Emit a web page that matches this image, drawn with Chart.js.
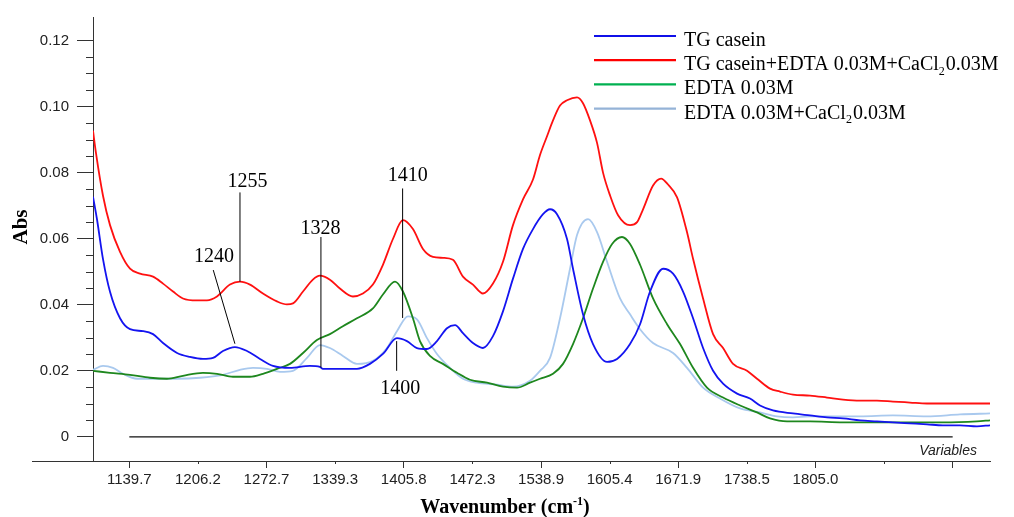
<!DOCTYPE html>
<html lang="en">
<head>
  <meta charset="UTF-8" />
  <title>TG casein FTIR spectra</title>
  <script src="https://cdn.jsdelivr.net/npm/chart.js@4"></script>
  <style>
    body { margin: 0; background: #fff; }
    canvas { display: block; }
  </style>
</head>
<body>
  <canvas id="spectra" width="1014" height="517"></canvas>

  <script>
    // [wavenumber, absorbance] pairs
    const tgCasein = [
      [1104.5, 0.0727], [1108.4, 0.0658], [1114.2, 0.0538], [1121.0, 0.0439], [1130.7, 0.0359],
      [1140.4, 0.0326], [1153.0, 0.0320], [1162.7, 0.0311], [1172.4, 0.0284], [1186.0, 0.0254],
      [1198.5, 0.0242], [1211.1, 0.0236], [1220.8, 0.0239], [1230.5, 0.0260], [1242.1, 0.0272],
      [1253.8, 0.0260], [1266.4, 0.0236], [1279.0, 0.0215], [1295.5, 0.0209], [1314.8, 0.0215],
      [1324.5, 0.0212], [1327.4, 0.0206], [1343.9, 0.0206], [1360.4, 0.0206], [1373.0, 0.0221],
      [1385.6, 0.0251], [1399.2, 0.0299], [1408.9, 0.0290], [1418.6, 0.0269], [1428.3, 0.0266],
      [1438.0, 0.0290], [1447.7, 0.0329], [1455.5, 0.0338], [1463.2, 0.0314], [1472.9, 0.0284],
      [1482.6, 0.0269], [1492.3, 0.0305], [1502.0, 0.0380], [1511.7, 0.0479], [1521.4, 0.0569],
      [1531.1, 0.0629], [1540.8, 0.0674], [1547.6, 0.0689], [1554.4, 0.0674], [1564.1, 0.0599],
      [1569.9, 0.0509], [1579.6, 0.0371], [1589.3, 0.0281], [1602.9, 0.0227], [1612.6, 0.0236],
      [1625.2, 0.0281], [1634.9, 0.0341], [1644.6, 0.0440], [1657.2, 0.0509], [1666.9, 0.0494],
      [1676.6, 0.0440], [1686.3, 0.0359], [1696.0, 0.0269], [1705.7, 0.0200], [1715.4, 0.0161],
      [1729.0, 0.0131], [1741.5, 0.0116], [1751.2, 0.0095], [1763.8, 0.0080], [1783.2, 0.0071],
      [1799.7, 0.0065], [1816.2, 0.0059], [1831.7, 0.0056], [1848.2, 0.0050], [1864.6, 0.0047],
      [1880.1, 0.0044], [1896.6, 0.0041], [1913.1, 0.0038], [1928.6, 0.0035], [1945.1, 0.0035],
      [1961.6, 0.0032], [1974.2, 0.0035]
    ];

    const tgCaseinEdtaCa = [
      [1104.5, 0.0927], [1107.4, 0.0859], [1114.2, 0.0730], [1121.0, 0.0641], [1130.7, 0.0560],
      [1140.4, 0.0509], [1150.1, 0.0494], [1162.7, 0.0485], [1172.4, 0.0464], [1182.1, 0.0440],
      [1191.7, 0.0419], [1205.3, 0.0413], [1215.0, 0.0413], [1224.7, 0.0425], [1237.3, 0.0461],
      [1247.0, 0.0470], [1256.7, 0.0461], [1269.3, 0.0434], [1282.9, 0.0410], [1292.5, 0.0401],
      [1298.4, 0.0404], [1308.1, 0.0440], [1317.7, 0.0476], [1324.5, 0.0488], [1334.2, 0.0476],
      [1343.9, 0.0449], [1356.5, 0.0425], [1366.2, 0.0434], [1375.9, 0.0461], [1385.6, 0.0521],
      [1395.3, 0.0599], [1405.0, 0.0656], [1414.7, 0.0629], [1424.4, 0.0569], [1434.1, 0.0545],
      [1443.8, 0.0542], [1453.5, 0.0536], [1463.2, 0.0485], [1472.9, 0.0461], [1482.6, 0.0434],
      [1492.3, 0.0464], [1502.0, 0.0530], [1511.7, 0.0641], [1521.4, 0.0719], [1531.1, 0.0779],
      [1537.9, 0.0853], [1544.7, 0.0910], [1550.5, 0.0958], [1557.3, 0.1003], [1564.1, 0.1019],
      [1573.8, 0.1028], [1579.6, 0.1010], [1586.4, 0.0958], [1593.2, 0.0890], [1599.0, 0.0800],
      [1605.8, 0.0731], [1613.6, 0.0671], [1625.2, 0.0641], [1632.0, 0.0650], [1637.8, 0.0689],
      [1647.5, 0.0761], [1655.3, 0.0782], [1662.0, 0.0764], [1670.8, 0.0725], [1680.4, 0.0620],
      [1686.3, 0.0539], [1696.0, 0.0419], [1705.7, 0.0311], [1715.4, 0.0269], [1725.1, 0.0221],
      [1738.6, 0.0200], [1748.3, 0.0176], [1760.9, 0.0146], [1770.6, 0.0137], [1783.2, 0.0128],
      [1799.7, 0.0125], [1816.2, 0.0119], [1831.7, 0.0113], [1848.2, 0.0110], [1864.6, 0.0110],
      [1880.1, 0.0107], [1896.6, 0.0104], [1913.1, 0.0101], [1928.6, 0.0101], [1945.1, 0.0101],
      [1961.6, 0.0101], [1974.2, 0.0101]
    ];

    const edta = [
      [1104.5, 0.0200], [1121.0, 0.0194], [1140.4, 0.0188], [1159.8, 0.0179], [1176.2, 0.0176],
      [1191.7, 0.0185], [1211.1, 0.0194], [1224.7, 0.0191], [1240.2, 0.0182], [1256.7, 0.0182],
      [1269.3, 0.0191], [1282.9, 0.0206], [1295.5, 0.0221], [1308.1, 0.0254], [1321.6, 0.0293],
      [1334.2, 0.0311], [1346.8, 0.0335], [1360.4, 0.0359], [1375.9, 0.0389], [1385.6, 0.0431],
      [1397.3, 0.0470], [1405.0, 0.0440], [1414.7, 0.0359], [1421.5, 0.0290], [1431.2, 0.0245],
      [1443.8, 0.0221], [1457.4, 0.0194], [1470.0, 0.0173], [1486.5, 0.0164], [1502.0, 0.0152],
      [1515.6, 0.0149], [1528.2, 0.0164], [1537.9, 0.0176], [1550.5, 0.0191], [1560.2, 0.0221],
      [1569.9, 0.0281], [1579.6, 0.0359], [1589.3, 0.0449], [1599.0, 0.0530], [1607.8, 0.0584],
      [1617.4, 0.0605], [1625.2, 0.0584], [1634.9, 0.0521], [1647.5, 0.0419], [1661.1, 0.0341],
      [1673.7, 0.0281], [1686.3, 0.0209], [1699.8, 0.0149], [1715.4, 0.0119], [1731.9, 0.0095],
      [1748.3, 0.0074], [1760.9, 0.0056], [1777.4, 0.0047], [1799.7, 0.0047], [1831.7, 0.0044],
      [1864.6, 0.0044], [1896.6, 0.0044], [1928.6, 0.0044], [1961.6, 0.0047], [1974.2, 0.0050]
    ];

    const edtaCa = [
      [1104.5, 0.0203], [1114.2, 0.0215], [1123.9, 0.0209], [1133.6, 0.0191], [1147.2, 0.0176],
      [1166.5, 0.0176], [1186.0, 0.0176], [1208.2, 0.0179], [1230.5, 0.0188], [1247.0, 0.0203],
      [1259.6, 0.0209], [1273.2, 0.0206], [1285.8, 0.0197], [1298.4, 0.0200], [1312.0, 0.0239],
      [1324.5, 0.0278], [1334.2, 0.0269], [1346.8, 0.0245], [1360.4, 0.0221], [1375.9, 0.0230],
      [1389.5, 0.0269], [1399.2, 0.0320], [1409.9, 0.0365], [1418.6, 0.0356], [1428.3, 0.0299],
      [1438.0, 0.0251], [1450.6, 0.0209], [1463.2, 0.0176], [1476.8, 0.0164], [1496.2, 0.0158],
      [1511.7, 0.0152], [1528.2, 0.0170], [1537.9, 0.0200], [1547.6, 0.0239], [1557.3, 0.0359],
      [1567.0, 0.0509], [1573.8, 0.0611], [1584.5, 0.0659], [1593.2, 0.0620], [1602.9, 0.0530],
      [1615.5, 0.0419], [1625.2, 0.0371], [1634.9, 0.0326], [1647.5, 0.0284], [1666.9, 0.0254],
      [1680.4, 0.0209], [1696.0, 0.0149], [1712.5, 0.0116], [1731.9, 0.0086], [1751.2, 0.0074],
      [1767.7, 0.0062], [1783.2, 0.0059], [1799.7, 0.0062], [1848.2, 0.0062], [1880.1, 0.0065],
      [1913.1, 0.0062], [1945.1, 0.0068], [1974.2, 0.0071]
    ];

    // zero reference line drawn across the plot
    const zeroLine = [[1139.7, 0], [1938.0, 0]];

    const seriesNames = [
      'TG casein',
      'TG casein+EDTA 0.03M+CaCl₂0.03M',
      'EDTA 0.03M',
      'EDTA 0.03M+CaCl₂0.03M'
    ];

    const xTickValues = [1139.7, 1206.2, 1272.7, 1339.3, 1405.8, 1472.3, 1538.9,
                         1605.4, 1671.9, 1738.5, 1805.0, 1871.5, 1938.0];
    const xTickLabels = ['1139.7', '1206.2', '1272.7', '1339.3', '1405.8', '1472.3', '1538.9',
                         '1605.4', '1671.9', '1738.5', '1805.0', '', ''];
    const yTickLabels = { 0: '0', 20: '0.02', 40: '0.04', 60: '0.06', 80: '0.08', 100: '0.10', 120: '0.12' };

    // peak labels: text anchor and leader line, in wavenumber / absorbance
    const peakLabels = [
      { text: '1255', at: [1254.3, 0.0757], from: [1247.0, 0.0740], to: [1247.0, 0.0470] },
      { text: '1240', at: [1221.7, 0.0530], from: [1221.1, 0.0505], to: [1242.1, 0.0282] },
      { text: '1328', at: [1325.0, 0.0614], from: [1325.5, 0.0605], to: [1325.5, 0.0210] },
      { text: '1410', at: [1409.7, 0.0775], from: [1404.7, 0.0752], to: [1404.7, 0.0360] },
      { text: '1400', at: [1402.4, 0.0131], from: [1398.9, 0.0290], to: [1398.9, 0.0200] }
    ];

    const lineColors = ['#1414f0', '#ff1010', '#1e871e', '#a9c9ee'];
    const legendColors = ['#1010e8', '#ff0000', '#00b050', '#95b3d7'];

    const toPoints = arr => arr.map(p => ({ x: p[0], y: p[1] }));
    const isMajorY = v => v > -1e-6 && Math.round(v * 1000) % 20 === 0;
    const serif = 'Liberation Serif, Times New Roman, serif';
    const sans = 'Liberation Sans, Arial, sans-serif';

    // draws text, turning "₂" into a small lowered 2
    function drawSubText(ctx, text, x, y, size) {
      const parts = text.split('₂');
      parts.forEach((part, i) => {
        ctx.font = size + 'px ' + serif;
        ctx.fillText(part, x, y);
        x += ctx.measureText(part).width;
        if (i < parts.length - 1) {
          ctx.font = Math.round(size * 0.62) + 'px ' + serif;
          ctx.fillText('2', x, y + size * 0.22);
          x += ctx.measureText('2').width + 1;
        }
      });
    }

    const decorations = {
      id: 'decorations',
      afterDatasetsDraw(chart) {
        const { ctx, chartArea, scales } = chart;
        const xs = scales.x, ys = scales.y;
        ctx.save();
        ctx.strokeStyle = '#333';
        ctx.lineWidth = 1;

        // minor y ticks
        ys.ticks.forEach(t => {
          if (t.value < -1e-6 || t.value > 0.1201 || isMajorY(t.value)) return;
          const py = Math.round(ys.getPixelForValue(t.value)) + 0.5;
          ctx.beginPath();
          ctx.moveTo(chartArea.left - 7, py);
          ctx.lineTo(chartArea.left, py);
          ctx.stroke();
        });
        // short x ticks
        xs.ticks.forEach((t, i) => {
          if (i % 2 === 0) return;
          const px = Math.round(xs.getPixelForValue(t.value)) + 0.5;
          ctx.beginPath();
          ctx.moveTo(px, chartArea.bottom);
          ctx.lineTo(px, chartArea.bottom + 3);
          ctx.stroke();
        });
        // x axis line runs on to the left of the y axis
        ctx.beginPath();
        ctx.moveTo(32, Math.round(chartArea.bottom) + 0.5);
        ctx.lineTo(chartArea.left, Math.round(chartArea.bottom) + 0.5);
        ctx.stroke();

        // peak labels
        ctx.strokeStyle = '#000';
        ctx.fillStyle = '#000';
        ctx.font = '20px ' + serif;
        ctx.textAlign = 'center';
        ctx.textBaseline = 'alphabetic';
        peakLabels.forEach(p => {
          ctx.beginPath();
          ctx.moveTo(xs.getPixelForValue(p.from[0]), ys.getPixelForValue(p.from[1]));
          ctx.lineTo(xs.getPixelForValue(p.to[0]), ys.getPixelForValue(p.to[1]));
          ctx.stroke();
          ctx.fillText(p.text, xs.getPixelForValue(p.at[0]), ys.getPixelForValue(p.at[1]));
        });

        // legend
        ctx.textAlign = 'left';
        const lx = chartArea.right - 396;
        seriesNames.forEach((name, i) => {
          const base = 46 + i * 24.2;
          ctx.strokeStyle = legendColors[i];
          ctx.lineWidth = 2.2;
          ctx.beginPath();
          ctx.moveTo(lx, base - 10);
          ctx.lineTo(lx + 82, base - 10);
          ctx.stroke();
          ctx.fillStyle = '#000';
          drawSubText(ctx, name, lx + 90, base, 20);
        });

        // "Variables" tag at the right end of the axis
        ctx.font = 'italic 14px ' + sans;
        ctx.fillStyle = '#222';
        ctx.textAlign = 'right';
        ctx.fillText('Variables', chartArea.right - 13, chartArea.bottom - 6);

        // axis titles
        ctx.fillStyle = '#000';
        ctx.save();
        ctx.translate(27, 227);
        ctx.rotate(-Math.PI / 2);
        ctx.textAlign = 'center';
        ctx.font = 'bold 21px ' + serif;
        ctx.fillText('Abs', 0, 0);
        ctx.restore();

        const big = 'bold 20px ' + serif, small = 'bold 12px ' + serif;
        ctx.font = big;
        const w1 = ctx.measureText('Wavenumber (cm').width;
        const w3 = ctx.measureText(')').width;
        ctx.font = small;
        const w2 = ctx.measureText('-1').width;
        let tx = 505 - (w1 + w2 + w3) / 2;
        const ty = 513;
        ctx.textAlign = 'left';
        ctx.font = big;
        ctx.fillText('Wavenumber (cm', tx, ty);
        tx += w1;
        ctx.font = small;
        ctx.fillText('-1', tx, ty - 8);
        tx += w2;
        ctx.font = big;
        ctx.fillText(')', tx, ty);

        ctx.restore();
      }
    };

    const datasets = [tgCasein, tgCaseinEdtaCa, edta, edtaCa].map((d, i) => ({
      label: seriesNames[i],
      data: toPoints(d),
      borderColor: lineColors[i],
      backgroundColor: lineColors[i],
      borderWidth: 1.8,
      pointRadius: 0,
      cubicInterpolationMode: 'monotone',
      fill: false
    }));
    datasets.push({
      label: 'zero',
      data: toPoints(zeroLine),
      borderColor: '#111',
      borderWidth: 1.4,
      pointRadius: 0,
      fill: false
    });

    new Chart(document.getElementById('spectra').getContext('2d'), {
      type: 'line',
      data: { datasets },
      plugins: [decorations],
      options: {
        responsive: false,
        animation: false,
        devicePixelRatio: 1,
        layout: { padding: { top: 13, right: 24, left: 0, bottom: 0 } },
        plugins: {
          legend: { display: false },
          tooltip: { enabled: false }
        },
        scales: {
          x: {
            type: 'linear',
            min: 1104.5,
            max: 1974.2,
            afterBuildTicks: scale => { scale.ticks = xTickValues.map(v => ({ value: v })); },
            afterFit: scale => { scale.height = 56; },
            ticks: {
              autoSkip: false,
              maxRotation: 0,
              padding: 3,
              color: '#222',
              font: { family: sans, size: 15 },
              callback: (value, index) => xTickLabels[index]
            },
            grid: {
              drawOnChartArea: false,
              tickLength: 7,
              tickColor: c => (c.index % 2 === 0 ? '#333' : 'rgba(0,0,0,0)')
            },
            border: { color: '#333', width: 1 }
          },
          y: {
            min: -0.0073,
            max: 0.1271,
            afterFit: scale => { scale.width = 93; },
            ticks: {
              stepSize: 0.005,
              includeBounds: false,
              autoSkip: false,
              padding: 8,
              color: '#222',
              font: { family: sans, size: 15 },
              callback: value => {
                if (!isMajorY(value)) return '';
                return yTickLabels[Math.round(value * 1000)] || '';
              }
            },
            grid: {
              drawOnChartArea: false,
              tickLength: 16,
              tickColor: c => (c.tick && isMajorY(c.tick.value) ? '#333' : 'rgba(0,0,0,0)')
            },
            border: { color: '#333', width: 1 }
          }
        }
      }
    });
  </script>
</body>
</html>
